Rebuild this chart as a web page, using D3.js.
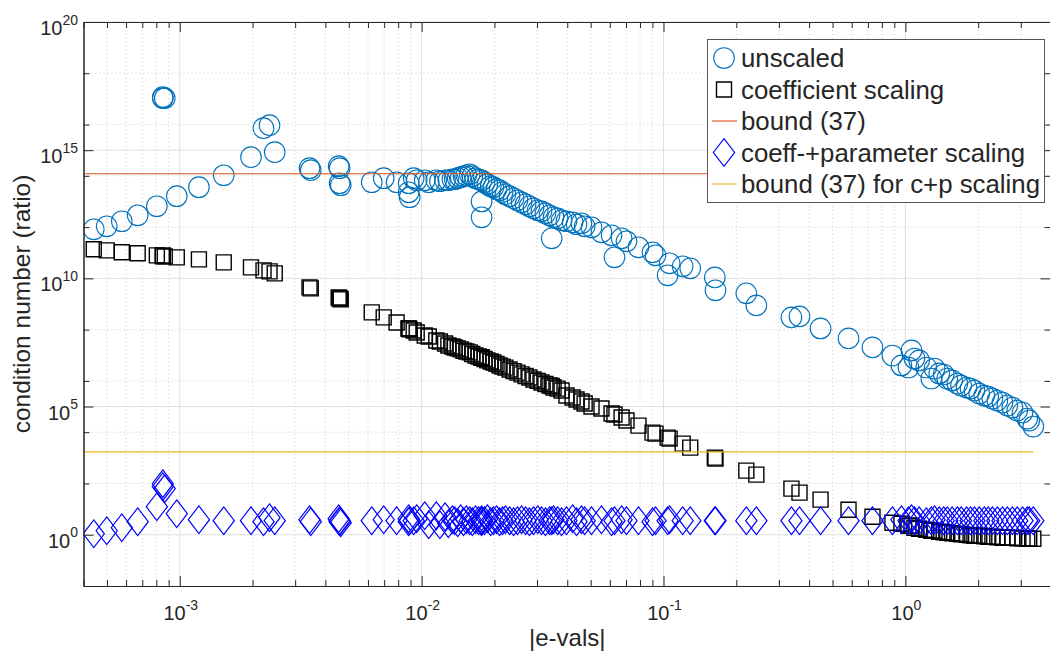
<!DOCTYPE html>
<html>
<head>
<meta charset="utf-8">
<script src="https://cdn.jsdelivr.net/npm/d3@7"></script>
<style>
  body { margin: 0; background: #fff; }
  text { font-family: "Liberation Sans", Arial, Helvetica, sans-serif; fill: #262626; }
</style>
</head>
<body>
<div id="canvas"></div>
<script>
// |e-vals| (shared by all three scatter series)
const evals = [
    4.41e-4, 4.99e-4, 5.76e-4, 6.70e-4, 8.04e-4, 8.51e-4, 8.51e-4, 8.67e-4, 9.72e-4, 1.20e-3,
    1.52e-3, 1.97e-3, 2.22e-3, 2.35e-3, 2.47e-3, 3.44e-3, 3.48e-3, 4.54e-3, 4.58e-3, 4.58e-3,
    4.63e-3, 6.22e-3, 6.97e-3, 7.88e-3, 8.84e-3, 8.84e-3, 8.92e-3, 9.27e-3, 9.54e-3, 1.03e-2,
    1.07e-2, 1.15e-2, 1.19e-2, 1.25e-2, 1.29e-2, 1.34e-2, 1.37e-2, 1.41e-2, 1.45e-2, 1.49e-2,
    1.53e-2, 1.58e-2, 1.62e-2, 1.67e-2, 1.72e-2, 1.77e-2, 1.77e-2, 1.77e-2, 1.82e-2, 1.87e-2,
    1.93e-2, 1.98e-2, 2.04e-2, 2.10e-2, 2.16e-2, 2.22e-2, 2.31e-2, 2.40e-2, 2.49e-2, 2.59e-2,
    2.69e-2, 2.79e-2, 2.90e-2, 3.02e-2, 3.13e-2, 3.25e-2, 3.38e-2, 3.45e-2, 3.51e-2, 3.65e-2,
    3.79e-2, 3.97e-2, 4.21e-2, 4.37e-2, 4.58e-2, 4.72e-2, 5.04e-2, 5.54e-2, 6.10e-2, 6.27e-2,
    6.71e-2, 7.03e-2, 7.88e-2, 9.01e-2, 9.27e-2, 1.04e-1, 1.06e-1, 1.20e-1, 1.29e-1, 1.63e-1,
    1.64e-1, 2.20e-1, 2.42e-1, 3.38e-1, 3.65e-1, 4.46e-1, 5.82e-1, 7.31e-1, 8.84e-1, 9.63e-1,
    1.03, 1.06, 1.09, 1.14, 1.22, 1.28, 1.32, 1.38, 1.44, 1.49,
    1.56, 1.64, 1.70, 1.79, 1.86, 1.93, 2.02, 2.12, 2.20, 2.29,
    2.40, 2.52, 2.64, 2.77, 2.90, 3.05, 3.19, 3.25, 3.38
]

const unscaled = [
    8.2e11, 1.07e12, 1.69e12, 2.89e12, 6.49e12, 1.07e17, 1.18e17, 1.07e17, 1.60e13, 3.59e13,
    1.05e14, 5.33e14, 7.23e15, 9.48e15, 8.35e14, 1.98e14, 1.66e14, 2.37e14, 1.98e14, 5.14e13,
    4.29e13, 5.62e13, 8.06e13, 5.62e13, 5.14e13, 2.29e13, 1.46e13, 8.06e13, 6.73e13, 6.73e13,
    5.62e13, 6.73e13, 6.15e13, 6.73e13, 6.73e13, 7.36e13, 7.36e13, 8.06e13, 8.82e13, 9.64e13,
    1.05e14, 1.15e14, 9.64e13, 8.06e13, 7.36e13, 6.73e13, 1.0e13, 2.4e12, 5.62e13, 4.70e13,
    3.93e13, 3.59e13, 3.00e13, 2.74e13, 2.29e13, 1.91e13, 1.60e13, 1.33e13, 1.11e13, 9.31e12,
    7.78e12, 6.49e12, 5.42e12, 4.53e12, 4.14e12, 3.46e12, 2.89e12, 3.65e11, 2.42e12, 2.21e12,
    1.84e12, 1.69e12, 1.54e12, 1.29e12, 1.41e12, 1.07e12, 9.8e11, 6.27e11, 4.78e11, 6.61e10,
    3.65e11, 2.79e11, 1.63e11, 1.04e11, 7.91e10, 1.31e10, 3.85e10, 2.94e10, 2.46e10, 1.09e10,
    3.40e9, 2.60e9, 8.82e8, 3.00e8, 3.28e8, 1.11e8, 4.53e7, 2.02e7, 9.8e6, 4.0e6,
    3.34e6, 1.54e7, 7.50e6, 6.27e6, 3.34e6, 1.24e6, 3.05e6, 1.95e6, 1.78e6, 1.24e6,
    1.04e6, 7.91e5, 6.61e5, 5.52e5, 5.05e5, 4.22e5, 3.22e5, 2.69e5, 2.46e5, 2.05e5,
    1.72e5, 1.43e5, 1.09e5, 9.1e4, 6.98e4, 5.83e4, 3.40e4, 2.84e4, 1.66e4
]

const coeffScaled = [
    1.36e11, 1.24e11, 1.04e11, 9.48e10, 7.91e10, 7.91e10, 7.23e10, 7.23e10, 6.61e10, 5.52e10,
    4.22e10, 2.69e10, 2.05e10, 1.88e10, 1.57e10, 4.45e9, 4.07e9, 1.81e9, 1.66e9, 1.66e9,
    1.51e9, 4.70e8, 3.00e8, 1.91e8, 1.11e8, 1.11e8, 1.02e8, 9.31e7, 7.78e7, 5.93e7,
    5.42e7, 3.78e7, 3.46e7, 2.89e7, 2.42e7, 2.21e7, 2.0e7, 1.85e7, 1.7e7, 1.5e7,
    1.4e7, 1.3e7, 1.12e7, 9.8e6, 8.9e6, 8.2e6, 8.2e6, 8.0e6, 7.2e6, 6.3e6,
    5.7e6, 5.2e6, 4.6e6, 4.0e6, 3.6e6, 3.3e6, 2.8e6, 2.4e6, 2.1e6, 1.8e6,
    1.55e6, 1.35e6, 1.13e6, 1.0e6, 8.7e5, 7.6e5, 6.6e5, 6.3e5, 5.5e5, 5.0e5,
    4.2e5, 2.69e5, 2.25e5, 1.88e5, 1.57e5, 1.31e5, 1.0e5, 8.35e4, 5.33e4, 4.87e4,
    3.72e4, 2.84e4, 1.81e4, 9.6e3, 8.82e3, 6.15e3, 5.62e3, 3.59e3, 2.50e3, 1.02e3,
    931, 316, 221, 62.7, 43.7, 23.3, 9.48, 5.05, 2.94, 2.69,
    2.25, 2.25, 1.88, 1.72, 1.57, 1.43, 1.43, 1.31, 1.25, 1.20,
    1.14, 1.09, 1.05, 1.0, 0.956, 0.914, 0.914, 0.874, 0.835, 0.835,
    0.799, 0.764, 0.764, 0.764, 0.730, 0.730, 0.698, 0.698, 0.698
]

const coeffParamScaled = [
    1.09, 1.43, 1.88, 3.22, 12.4, 98, 75, 63, 6.61, 3.85,
    3.52, 3.52, 3.22, 4.61, 3.52, 3.85, 3.22, 4.22, 3.52, 3.22,
    2.94, 3.52, 3.85, 3.52, 4.22, 3.22, 3.52, 3.52, 4.22, 5.52,
    2.46, 5.52, 2.46, 5.05, 2.69, 3.85, 3.52, 2.94, 4.22, 3.22,
    3.85, 3.52, 3.22, 3.85, 3.52, 3.22, 3.52, 3.85, 3.52, 4.22,
    3.22, 3.52, 3.85, 3.22, 3.52, 3.85, 3.52, 3.22, 3.52, 3.85,
    3.52, 3.22, 3.52, 3.85, 3.52, 3.22, 3.52, 3.52, 3.85, 3.52,
    3.22, 3.52, 4.22, 3.22, 3.85, 3.52, 3.52, 3.85, 3.22, 3.52,
    3.85, 3.52, 3.52, 3.22, 3.52, 3.52, 3.85, 3.52, 3.52, 3.52,
    3.52, 3.52, 3.52, 3.52, 3.52, 3.52, 3.52, 3.52, 3.52, 3.85,
    3.52, 4.22, 3.52, 3.52, 3.22, 3.52, 3.85, 3.52, 3.52, 3.52,
    3.52, 3.52, 3.52, 3.52, 3.52, 3.52, 3.52, 3.52, 3.52, 3.52,
    3.52, 3.52, 3.52, 3.52, 3.52, 3.52, 3.52, 3.52, 3.52
]

const bound37 = 1.2e14
const bound37cp = 1.7e3
const boundSpan = [4e-4, 3.38]

const xTickValues = [1e-3, 1e-2, 1e-1, 1]
const yTickValues = [1, 1e5, 1e10, 1e15, 1e20]
const legendLabels = ['unscaled', 'coefficient scaling', 'bound (37)', 'coeff-+parameter scaling', 'bound (37) for c+p scaling']

const colors = { unscaled: '#0072BD', coeff: '#000000', bound: '#D95319', cp: '#0000FF', boundCp: '#EDB120' }

const width = 1050
const height = 652
const box = { left: 83.5, right: 1051, top: 22, bottom: 586 }

const svg = d3.select('#canvas')
    .append('svg')
        .attr('width', width)
        .attr('height', height)

const x = d3.scaleLog()
    .domain([4e-4, 4])
    .range([box.left, box.right])

const y = d3.scaleLog()
    .domain([1e-2, 1e20])
    .range([box.bottom, box.top])

const isDecade = v => Math.abs(Math.log10(v) - Math.round(Math.log10(v))) < 1e-9
const xMinor = x.ticks().filter(v => !isDecade(v))
const yMinor = y.ticks().filter(v => !yTickValues.includes(v))

// grid
const grid = svg.append('g')
grid.selectAll('.xmin').data(xMinor).enter().append('line')
    .attr('x1', d => x(d)).attr('x2', d => x(d))
    .attr('y1', box.top).attr('y2', box.bottom)
    .attr('stroke', '#c8c8c8').attr('stroke-dasharray', '1,3')
grid.selectAll('.ymin').data(yMinor).enter().append('line')
    .attr('x1', box.left).attr('x2', box.right)
    .attr('y1', d => y(d)).attr('y2', d => y(d))
    .attr('stroke', '#c8c8c8').attr('stroke-dasharray', '1,3')
grid.selectAll('.xmaj').data(xTickValues).enter().append('line')
    .attr('x1', d => x(d)).attr('x2', d => x(d))
    .attr('y1', box.top).attr('y2', box.bottom)
    .attr('stroke', '#dfdfdf')
grid.selectAll('.ymaj').data(yTickValues).enter().append('line')
    .attr('x1', box.left).attr('x2', box.right)
    .attr('y1', d => y(d)).attr('y2', d => y(d))
    .attr('stroke', '#dfdfdf')

// data
svg.append('clipPath').attr('id', 'clip')
    .append('rect')
        .attr('x', box.left).attr('y', box.top)
        .attr('width', box.right - box.left).attr('height', box.bottom - box.top)

const plot = svg.append('g').attr('clip-path', 'url(#clip)')

const circleSym = 'M10.3,0A10.3,10.3,0,1,1,-10.3,0A10.3,10.3,0,1,1,10.3,0Z'
const squareSym = 'M-7.5,-7.5H7.5V7.5H-7.5Z'
const diamondSym = 'M0,-13.8L10.6,0L0,13.8L-10.6,0Z'

function scatter(values, sym, color, sw) {
    plot.append('g').selectAll('path')
        .data(evals.map((e, i) => [e, values[i]]))
        .enter()
        .append('path')
        .attr('d', sym)
        .attr('transform', d => `translate(${x(d[0])},${y(d[1])})`)
        .attr('fill', 'none')
        .attr('stroke', color)
        .attr('stroke-width', sw)
}

function hline(value, color) {
    plot.append('line')
        .attr('x1', x(boundSpan[0])).attr('x2', x(boundSpan[1]))
        .attr('y1', y(value)).attr('y2', y(value))
        .attr('stroke', color).attr('stroke-width', 1.1)
}

scatter(unscaled, circleSym, colors.unscaled, 1.1)
scatter(coeffScaled, squareSym, colors.coeff, 1.4)
hline(bound37, colors.bound)
scatter(coeffParamScaled, diamondSym, colors.cp, 1.2)
hline(bound37cp, colors.boundCp)

// axes (ticks point inward)
const axisColor = '#262626'
function styleAxis(g) {
    g.selectAll('path').attr('stroke', axisColor)
    g.selectAll('line').attr('stroke', axisColor)
    g.selectAll('text').remove()
}

svg.append('g').attr('transform', `translate(0,${box.bottom})`)
    .call(d3.axisBottom(x).tickValues(xTickValues).tickSizeInner(-10).tickSizeOuter(0)).call(styleAxis)
svg.append('g').attr('transform', `translate(0,${box.bottom})`)
    .call(d3.axisBottom(x).tickValues(xMinor).tickSizeInner(-6).tickSizeOuter(0)).call(styleAxis)
svg.append('g').attr('transform', `translate(0,${box.top})`)
    .call(d3.axisTop(x).tickValues(xTickValues).tickSizeInner(-10).tickSizeOuter(0)).call(styleAxis)
svg.append('g').attr('transform', `translate(0,${box.top})`)
    .call(d3.axisTop(x).tickValues(xMinor).tickSizeInner(-6).tickSizeOuter(0)).call(styleAxis)
svg.append('g').attr('transform', `translate(${box.left},0)`)
    .call(d3.axisLeft(y).tickValues(yTickValues).tickSizeInner(-10).tickSizeOuter(0)).call(styleAxis)
svg.append('g').attr('transform', `translate(${box.left},0)`)
    .call(d3.axisLeft(y).tickValues(yMinor).tickSizeInner(-6).tickSizeOuter(0)).call(styleAxis)
svg.append('g').attr('transform', `translate(${box.right - 0.5},0)`)
    .call(d3.axisRight(y).tickValues(yTickValues).tickSizeInner(-10).tickSizeOuter(0)).call(styleAxis)
svg.append('g').attr('transform', `translate(${box.right - 0.5},0)`)
    .call(d3.axisRight(y).tickValues(yMinor).tickSizeInner(-6).tickSizeOuter(0)).call(styleAxis)

// tick labels 10^k
function powLabel(sel) {
    sel.append('tspan').text('10')
    sel.append('tspan').attr('dy', -10.5).attr('font-size', 14).text(d => Math.round(Math.log10(d)))
}

svg.append('g').selectAll('text')
    .data(xTickValues)
    .enter()
    .append('text')
    .attr('x', d => x(d) + 1)
    .attr('y', 620)
    .attr('text-anchor', 'middle')
    .attr('font-size', 20)
    .call(powLabel)

svg.append('g').selectAll('text')
    .data(yTickValues)
    .enter()
    .append('text')
    .attr('x', 78)
    .attr('y', d => y(d) + 13)
    .attr('text-anchor', 'end')
    .attr('font-size', 20)
    .call(powLabel)

svg.append('text')
    .attr('x', (box.left + box.right) / 2)
    .attr('y', 646)
    .attr('text-anchor', 'middle')
    .attr('font-size', 24)
    .text('|e-vals|')

svg.append('text')
    .attr('transform', `translate(30,${(box.top + box.bottom) / 2}) rotate(-90)`)
    .attr('text-anchor', 'middle')
    .attr('font-size', 24.5)
    .text('condition number (ratio)')

// legend
const legend = svg.append('g')
legend.append('rect')
    .attr('x', 707.5).attr('y', 39.5)
    .attr('width', 337).attr('height', 163)
    .attr('fill', '#fff').attr('stroke', '#555').attr('stroke-width', 1)

const legendSyms = [
    { sym: circleSym, color: colors.unscaled, sw: 1.1 },
    { sym: squareSym, color: colors.coeff, sw: 1.4 },
    { line: true, color: colors.bound },
    { sym: diamondSym, color: colors.cp, sw: 1.2 },
    { line: true, color: colors.boundCp }
]

legendLabels.forEach((label, i) => {
    const cy = 58 + i * 31.5
    const s = legendSyms[i]
    if (s.line) {
        legend.append('line')
            .attr('x1', 712).attr('x2', 737).attr('y1', cy).attr('y2', cy)
            .attr('stroke', s.color).attr('stroke-width', 1.1)
    } else {
        legend.append('path')
            .attr('d', s.sym)
            .attr('transform', `translate(724,${cy})`)
            .attr('fill', 'none').attr('stroke', s.color).attr('stroke-width', s.sw)
    }
    legend.append('text')
        .attr('x', 741)
        .attr('y', cy + 9)
        .attr('font-size', 25.8)
        .attr('fill', '#000')
        .text(label)
})
</script>
</body>
</html>
